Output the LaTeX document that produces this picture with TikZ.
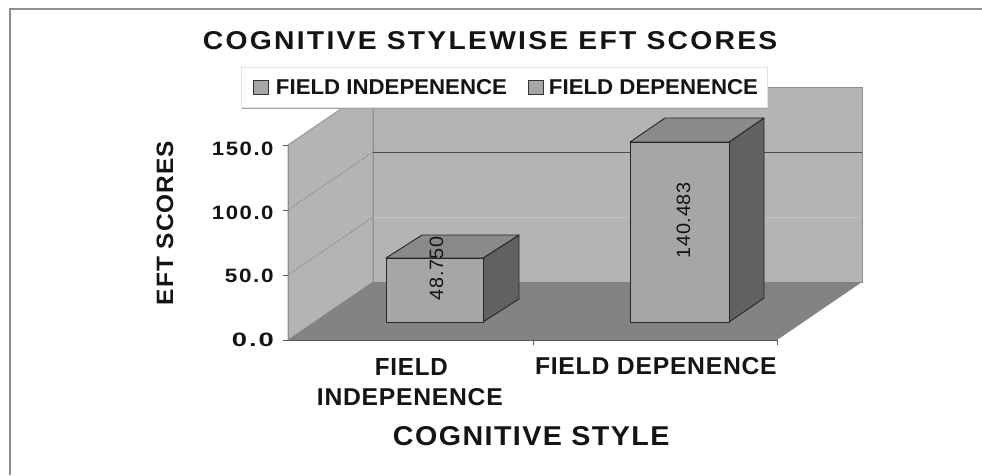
\documentclass[tikz,border=0pt]{standalone}
\usepackage{fontspec}
\setmainfont{Liberation Sans}
\usepackage{graphicx}
\definecolor{wallc}{HTML}{B4B4B4}
\definecolor{floorc}{HTML}{838383}
\definecolor{barfront}{HTML}{A6A6A6}
\definecolor{bartop}{HTML}{8A8A8A}
\definecolor{barside}{HTML}{616161}
\definecolor{edgec}{HTML}{8E8E8E}
\definecolor{inkc}{HTML}{141414}
% #1 letter spacing, #2 width, #3 cap height, #4 text
\newcommand{\fitb}[4]{\resizebox{#2pt}{#3pt}{\addfontfeature{LetterSpace=#1}\bfseries #4\kern-\dimexpr\fontdimen6\font*#1/100\relax}}
\newcommand{\fitr}[4]{\resizebox{#2pt}{#3pt}{\addfontfeature{LetterSpace=#1}#4\kern-\dimexpr\fontdimen6\font*#1/100\relax}}
\tikzset{
  txt/.style={inner sep=0pt, outer sep=0pt, text=inkc},
  wallface/.style={fill=wallc, draw=edgec, line width=0.8pt},
  barface/.style={draw=black!85, line width=0.9pt, line join=round},
  gridback/.style={draw=black!70, line width=0.8pt},
  gridside/.style={draw=black!60, line width=0.6pt, densely dotted},
  axisline/.style={draw=black!65, line width=0.9pt},
  legmark/.style={fill=barfront, draw=black!80, line width=0.8pt},
}
\begin{document}
\begin{tikzpicture}[x=1pt,y=-1pt]
\useasboundingbox (0,0) rectangle (982,475);
\fill[white] (0,0) rectangle (982,475);
% outer frame
\draw[edgec, line width=2pt] (10,475) -- (10,9) -- (982,9);
% back wall
\path[wallface] (373,87) -- (862,87) -- (862,282) -- (373,282) -- cycle;
% side wall
\path[wallface] (288,340) -- (288,145) -- (373,87) -- (373,282) -- cycle;
% floor
\fill[floorc] (288,340) -- (777,340) -- (862,282) -- (373,282) -- cycle;
% gridlines
\draw[draw=wallc!85!white, line width=0.8pt] (373,217) -- (862,217);
\draw[gridback] (373,152) -- (862,152);
\draw[gridside] (288,275) -- (373,217);
\draw[gridside] (288,210) -- (373,152);
% axis lines and ticks
\draw[axisline] (283,340) -- (777,340);
\draw[axisline] (533,340) -- (533,345);
\draw[axisline] (777,340) -- (777,345);
\draw[edgec, line width=0.9pt] (288,145) -- (288,340);
\foreach \yy in {145,210,275} \draw[axisline] (283,\yy) -- (288,\yy);
% bar 1
\path[barface, fill=barside] (483,258) -- (519,235) -- (519,299) -- (483,322) -- cycle;
\path[barface, fill=bartop] (386,258) -- (483,258) -- (519,235) -- (422,235) -- cycle;
\path[barface, fill=barfront] (386,258) rectangle (483,322);
% bar 2
\path[barface, fill=barside] (729,142) -- (764,118) -- (764,298) -- (729,322) -- cycle;
\path[barface, fill=bartop] (630,142) -- (729,142) -- (764,118) -- (665,118) -- cycle;
\path[barface, fill=barfront] (630,142) rectangle (729,322);
% value labels
\node[txt, rotate=90] (v1) at (436.5,268.5) {\fitr{3}{63}{13.5}{48.750}};
\node[txt, rotate=90] (v2) at (683.5,220.5) {\fitr{3}{75}{13.5}{140.483}};
% legend
\fill[black!35] (242,106) rectangle (768,108.5);
\path[fill=white, draw=black!12, line width=0.6pt] (241,67) rectangle (767,107);
\path[legmark] (253,80) rectangle (268,94);
\path[legmark] (528,80) rectangle (543,94);
\node[txt] (l1) at (391.5,87.5) {\fitb{0}{231}{15}{FIELD INDEPENENCE}};
\node[txt] (l2) at (653.5,87.5) {\fitb{0}{209}{15}{FIELD DEPENENCE}};
% title
\node[txt] (title) at (489,41) {\fitb{8}{572}{18}{COGNITIVE STYLEWISE EFT SCORES}};
% y tick labels
\node[txt, anchor=east] (t150) at (272,148.5) {\fitb{7}{60}{13.5}{150.0}};
\node[txt, anchor=east] (t100) at (272,212.5) {\fitb{7}{60}{13.5}{100.0}};
\node[txt, anchor=east] (t50) at (272,276) {\fitb{7}{47}{13.5}{50.0}};
\node[txt, anchor=east] (t0) at (272,340) {\fitb{7}{40}{13.5}{0.0}};
% y title
\node[txt, rotate=90] (ytitle) at (165,223.5) {\fitb{4}{163}{16.5}{EFT SCORES}};
% category labels
\node[txt] (c1a) at (411,366.5) {\fitb{3}{72}{17}{FIELD}};
\node[txt] (c1b) at (409.5,397.5) {\fitb{3}{185}{17}{INDEPENENCE}};
\node[txt] (c2) at (655.5,366.5) {\fitb{3}{241}{17}{FIELD DEPENENCE}};
% x title
\node[txt] (xtitle) at (530.5,436.5) {\fitb{5}{275}{19}{COGNITIVE STYLE}};
\end{tikzpicture}
\end{document}
